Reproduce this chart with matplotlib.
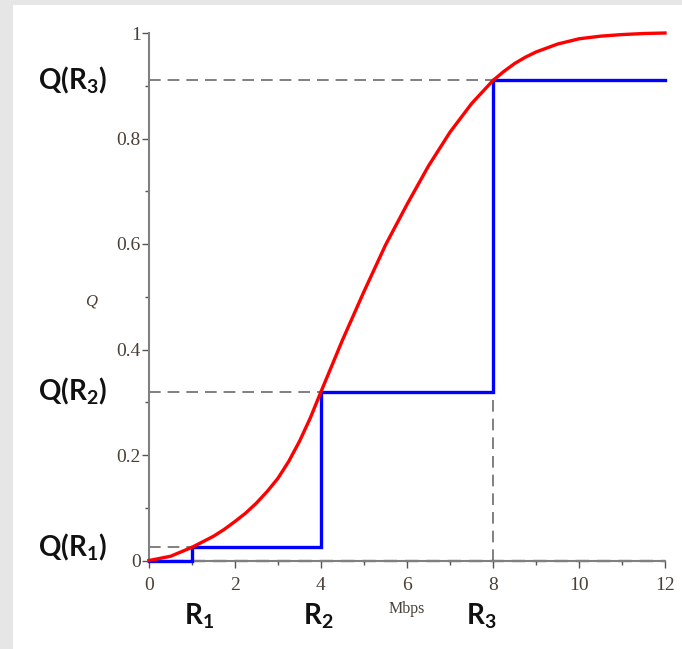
import matplotlib
matplotlib.use("Agg")
import matplotlib.pyplot as plt
from matplotlib.patches import Rectangle
from matplotlib.ticker import MultipleLocator

plt.rcParams["mathtext.fontset"] = "custom"
plt.rcParams["mathtext.rm"] = "Lato:bold"
plt.rcParams["mathtext.bf"] = "Lato:bold"
plt.rcParams["mathtext.it"] = "Lato:bold"

# Data
x_curve = [0, 0.5, 1, 1.5, 1.75, 2, 2.25, 2.5, 2.75, 3, 3.25, 3.5, 3.75, 4,
           4.25, 4.5, 5, 5.5, 6, 6.5, 7, 7.5, 8, 8.25, 8.5, 8.75, 9, 9.5, 10,
           10.5, 11, 11.5, 12]
q_curve = [0.0, 0.008, 0.025, 0.046, 0.059, 0.074, 0.090, 0.109, 0.131, 0.156,
           0.188, 0.226, 0.270, 0.32, 0.369, 0.418, 0.51, 0.598, 0.675, 0.748,
           0.812, 0.866, 0.91, 0.927, 0.942, 0.954, 0.964, 0.979, 0.989,
           0.994, 0.997, 0.999, 1.0]
rates = [1, 4, 8]
q_rates = [0.025, 0.32, 0.91]
x_max = 12
rate_labels = [r"$\mathrm{R_1}$", r"$\mathrm{R_2}$", r"$\mathrm{R_3}$"]
q_labels = [r"$\mathrm{Q(R_1)}$", r"$\mathrm{Q(R_2)}$", r"$\mathrm{Q(R_3)}$"]
x_ticks = [0, 2, 4, 6, 8, 10, 12]
y_ticks = [0, 0.2, 0.4, 0.6, 0.8, 1]
y_tick_labels = ["0", "0.2", "0.4", "0.6", "0.8", "1"]

W, H = 682, 649
fig = plt.figure(figsize=(W / 100, H / 100), dpi=100, facecolor="#e6e6e6")
bg = fig.add_axes([13 / W, 0, 1 - 13 / W, 1 - 5 / H], zorder=-5)
bg.set_axis_off()
bg.add_patch(Rectangle((0, 0), 1, 1, transform=bg.transAxes, facecolor="white",
                       edgecolor="none"))

ax = fig.add_axes([149 / W, (H - 560.5) / H, 516 / W, 527.5 / H], zorder=1)
ax.set_facecolor("none")
ax.set_xlim(0, x_max)
ax.set_ylim(0, 1)

for s in ["top", "right"]:
    ax.spines[s].set_visible(False)
for s in ["left", "bottom"]:
    ax.spines[s].set_color("#808080")
    ax.spines[s].set_linewidth(1.5)

ax.set_xticks(x_ticks)
ax.set_xticklabels([str(t) for t in x_ticks])
ax.set_yticks(y_ticks)
ax.set_yticklabels(y_tick_labels)
ax.xaxis.set_minor_locator(MultipleLocator(1))
ax.yaxis.set_minor_locator(MultipleLocator(0.1))
ax.tick_params(which="both", direction="out", color="#555555", width=1.0,
               labelcolor="#4a4038", labelsize=14)
ax.tick_params(which="major", length=5)
ax.tick_params(which="minor", length=3)
ax.tick_params(axis="x", pad=7)
ax.tick_params(axis="y", pad=1)
for lab in ax.get_xticklabels() + ax.get_yticklabels():
    lab.set_fontfamily("Liberation Serif")

dash = (0, (6, 3.6))
gcol = "#808080"
# dashed guide lines
for r, q in zip(rates, q_rates):
    ax.plot([0, r], [q, q], color=gcol, lw=1.4, ls=dash, zorder=2, clip_on=False)
ax.plot([rates[2], rates[2]], [0, q_rates[2]], color=gcol, lw=1.4, ls=dash,
        zorder=2, clip_on=False)
ax.plot([0, x_max], [0, 0], color="#222222", lw=1.6, ls=dash, zorder=2,
        clip_on=False)

# step function
sx = [0]
sy = [0]
prev = 0
for r, q in zip(rates, q_rates):
    sx += [r, r]
    sy += [prev, q]
    prev = q
sx.append(x_max)
sy.append(prev)
ax.plot(sx, sy, color="#0000ff", lw=2.4, zorder=3, clip_on=False,
        solid_joinstyle="miter")

# curve
ax.plot(x_curve, q_curve, color="#ff0000", lw=2.4, zorder=4, clip_on=False,
        solid_joinstyle="round")

# axis labels
ax.text((91 - 149) / 516, (560.5 - 301) / 527.5, "Q", transform=ax.transAxes,
        fontsize=12, fontfamily="Liberation Serif", style="italic",
        color="#4a4038", ha="center", va="center")
ax.text(6.0, -0.092, "Mbps", transform=ax.get_xaxis_transform(), fontsize=11.5,
        fontfamily="Liberation Serif", color="#4a4038", ha="center", va="center")

label_x = [1.16, 3.93, 7.72]
for lx, lab in zip(label_x, rate_labels):
    ax.text(lx, -0.105, lab, transform=ax.get_xaxis_transform(), fontsize=20,
            color="#111111", ha="center", va="center")
for q, lab in zip(q_rates, q_labels):
    ax.text((72 - 149) / 516, q, lab, transform=ax.get_yaxis_transform(),
            fontsize=20, color="#111111", ha="center", va="center")

fig.savefig("out.png", dpi=100, facecolor=fig.get_facecolor())
